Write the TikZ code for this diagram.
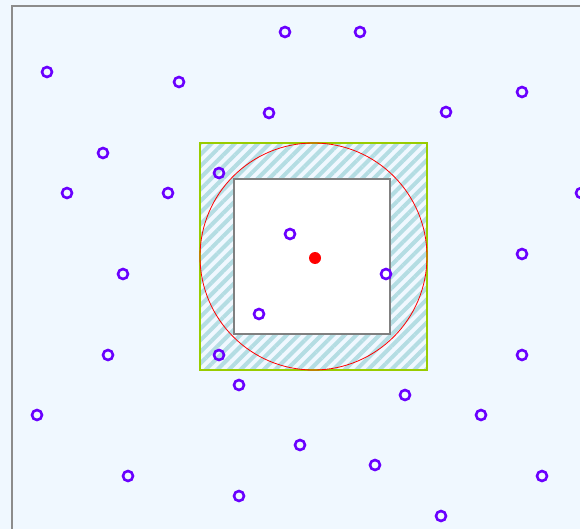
\documentclass[tikz,border=0pt]{standalone}
\usetikzlibrary{patterns.meta}
\definecolor{bg}{HTML}{F0F8FF}
\definecolor{pt}{HTML}{6A00FF}
\definecolor{hatch}{HTML}{B4DDE3}
\definecolor{grn}{HTML}{99CC00}
\begin{document}
\begin{tikzpicture}[x=1pt,y=-1pt,
  pnt/.style={circle,draw=pt,line width=2.6pt,minimum size=10pt,inner sep=0pt,fill=none}]
\useasboundingbox (0,0) rectangle (580,529);
\fill[bg] (0,0) rectangle (580,529);
\draw[gray!90,line width=2pt] (12,540) -- (12,6) -- (590,6);
% hatched square
\fill[bg] (200,143) rectangle (427,370);
\pattern[pattern={Lines[angle=45,distance=8.2pt,line width=4pt]},pattern color=hatch] (200,143) rectangle (427,370);
\draw[grn,line width=1.6pt] (200,143) rectangle (427,370);
\node[draw=gray,line width=1.6pt,fill=white,minimum width=156pt,minimum height=155pt,inner sep=0pt] (inner) at (312,256.5) {};
\node[circle,draw=red,line width=0.8pt,minimum size=227pt,inner sep=0pt] (ring) at (313.5,256.5) {};
\node[circle,fill=red,minimum size=12pt,inner sep=0pt] (c) at (315,258) {};
\foreach \x/\y [count=\i] in {285/32,360/32,47/72,179/82,522/92,269/113,446/112,103/153,219/173,67/193,168/193,581/193,290/234,522/254,123/274,386/274,259/314,108/355,219/355,522/355,239/385,405/395,37/415,481/415,300/445,375/465,128/476,542/476,239/496,441/516}
  \node[pnt] (p\i) at (\x,\y) {};
\end{tikzpicture}
\end{document}
